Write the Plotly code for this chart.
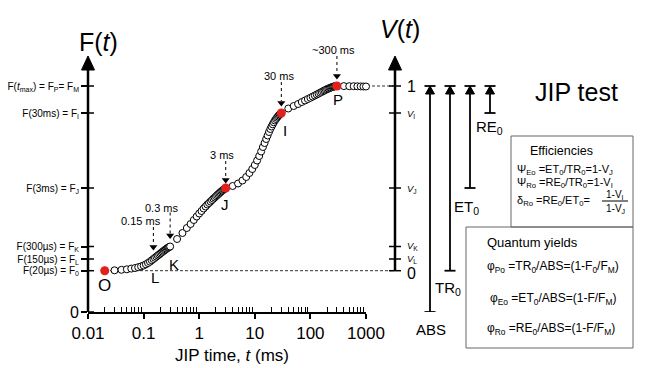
import math
import plotly.graph_objects as go

# ---------------- data ----------------
time_ms = [
    0.02, 0.03, 0.04, 0.05, 0.06, 0.07, 0.08, 0.09, 0.10, 0.11, 0.12, 0.13, 0.14, 0.15,
    0.16, 0.17, 0.18, 0.19, 0.20, 0.21, 0.22, 0.23, 0.24, 0.25, 0.26, 0.27, 0.28, 0.29, 0.30,
    0.4, 0.5, 0.6, 0.7, 0.8, 0.9, 1.0, 1.1, 1.2, 1.3, 1.4, 1.5, 1.6, 1.7, 1.8, 1.9,
    2.0, 2.1, 2.2, 2.3, 2.4, 2.5, 2.6, 2.7, 2.8, 2.9, 3.0,
    4, 5, 6, 7, 8, 9, 10, 11, 12, 13, 14, 15, 16, 17, 18, 19, 20, 21, 22, 23, 24, 25,
    26, 27, 28, 29, 30,
    40, 50, 60, 70, 80, 90, 100, 110, 120, 130, 140, 150, 160, 170, 180, 190, 200,
    210, 220, 230, 240, 250, 260, 270, 280, 290, 300,
    400, 500, 600, 700, 800, 900, 1000,
]
fluorescence = [
    413, 417, 422, 427, 434, 440, 448, 456, 465, 477, 490, 503, 517, 530,
    542, 554, 565, 575, 585, 594, 603, 611, 619, 626, 633, 640, 646, 650, 655,
    730, 790, 840, 880, 920, 955, 985, 1010, 1035, 1055, 1075, 1090, 1105, 1120, 1133, 1145,
    1157, 1168, 1178, 1188, 1197, 1206, 1214, 1221, 1228, 1234, 1240,
    1260, 1285, 1315, 1350, 1390, 1430, 1470, 1515, 1560, 1605, 1650, 1690, 1730, 1765,
    1800, 1830, 1855, 1877, 1897, 1915, 1930, 1943,
    1955, 1966, 1975, 1983, 1990,
    2035, 2060, 2080, 2100, 2115, 2130, 2142, 2154, 2165, 2175, 2184, 2193, 2201, 2209,
    2216, 2223, 2229,
    2234, 2239, 2243, 2247, 2251, 2254, 2256, 2258, 2259, 2260,
    2259, 2258, 2258, 2257, 2256, 2255, 2255,
]
assert len(time_ms) == len(fluorescence)

key_times = [0.02, 3, 30, 300]                       # red points O, J, I, P
phase_times = [0.02, 0.15, 0.3, 3, 30, 300]
phase_labels = ["O", "L", "K", "J", "I", "P"]
f_tick_text = [
    "F(20µs) = F<sub>0</sub>",
    "F(150µs) = F<sub>L</sub>",
    "F(300µs) = F<sub>K</sub>",
    "F(3ms) = F<sub>J</sub>",
    "F(30ms) = F<sub>I</sub>",
    "F(<i>t</i><sub>max</sub>) = F<sub>P</sub>= F<sub>M</sub>",
]
v_tick_text = ["0", "<i>V</i><sub>L</sub>", "<i>V</i><sub>K</sub>", "<i>V</i><sub>J</sub>",
               "<i>V</i><sub>I</sub>", "1"]
x_tick_vals = [0.01, 0.1, 1, 10, 100, 1000]
x_tick_text = ["0.01", "0.1", "1", "10", "100", "1000"]
arrow_times = [0.15, 0.3, 3, 30, 300]
arrow_texts = ["0.15 ms", "0.3 ms", "3 ms", "30 ms", "~300 ms"]
flux_names = ["ABS", "TR<sub>0</sub>", "ET<sub>0</sub>", "RE<sub>0</sub>"]
flux_start_times = [None, 0.02, 3, 30]               # None -> starts at F = 0

# ---------------- helpers / geometry ----------------
W, H = 650, 368
def X(px): return px / W
def Y(py): return 1 - py / H
F_PER_PX = 10
Y_BOTTOM = 312

F_at = dict(zip(time_ms, fluorescence))
f_tick_vals = [F_at[t] for t in phase_times]
FM = F_at[300]
F0 = F_at[0.02]
FONT = "Liberation Sans, Arial, Helvetica, sans-serif"

fig = go.Figure()

# transient curve
fig.add_trace(go.Scatter(
    x=time_ms, y=fluorescence, mode="markers",
    marker=dict(symbol="circle", size=7, color="white", line=dict(color="black", width=1)),
    hoverinfo="skip", showlegend=False, cliponaxis=False))
fig.add_trace(go.Scatter(
    x=key_times, y=[F_at[t] for t in key_times], mode="markers",
    marker=dict(symbol="circle", size=9, color="#e3211c"),
    hoverinfo="skip", showlegend=False, cliponaxis=False))

# time arrows (dotted shafts + heads) and texts
arrow_offsets = {  # (text dx, text dy, shaft top, shaft tip) in px
    0.15: (-12, 38, 32, 9), 0.3: (-8, 39, 34, 8), 3: (-4, 33, 27, 5),
    30: (-2, 37, 31, 7), 300: (-3, 36, 30, 7)}
sx, sy, hx, hy = [], [], [], []
annotations = []
for t, txt in zip(arrow_times, arrow_texts):
    tdx, tdy, top, tip = arrow_offsets[t]
    f = F_at[t]
    sx += [t, t, None]
    sy += [f + top * F_PER_PX, f + (tip + 5) * F_PER_PX, None]
    hx.append(t)
    hy.append(f + (tip + 3) * F_PER_PX)
    annotations.append(dict(text=txt, x=math.log10(t), y=f, xref="x", yref="y",
                            xanchor="center", yanchor="middle",
                            xshift=tdx, yshift=tdy, showarrow=False, font=dict(size=11)))
fig.add_trace(go.Scatter(x=sx, y=sy, mode="lines", line=dict(color="black", width=1, dash="dot"),
                         hoverinfo="skip", showlegend=False))
fig.add_trace(go.Scatter(x=hx, y=hy, mode="markers",
                         marker=dict(symbol="triangle-down", size=7, color="black"),
                         hoverinfo="skip", showlegend=False, cliponaxis=False))

# phase letters
phase_off = {"O": (0, -15, 17), "L": (2, -18, 15), "K": (4, -18, 15),
             "J": (-1, -16, 15), "I": (4, -17, 15), "P": (1, -13, 15)}
for t, lab in zip(phase_times, phase_labels):
    dx, dy, sz = phase_off[lab]
    annotations.append(dict(text=lab, x=math.log10(t), y=F_at[t], xref="x", yref="y",
                            xanchor="center", yanchor="middle",
                            xshift=dx, yshift=dy, showarrow=False, font=dict(size=sz)))

shapes = []
def line(x0, y0, x1, y1, yref="paper", width=1.5, color="black", dash=None, layer="above"):
    d = dict(type="line", xref="paper", yref=yref, x0=x0, y0=y0, x1=x1, y1=y1,
             line=dict(color=color, width=width), layer=layer)
    if dash:
        d["line"]["dash"] = dash
    shapes.append(d)

def tri_up(px, tip_py, h=14, w=13):
    shapes.append(dict(type="path", xref="paper", yref="paper",
                       path=f"M {X(px - w/2)},{Y(tip_py + h)} L {X(px + w/2)},{Y(tip_py + h)} L {X(px)},{Y(tip_py)} Z",
                       fillcolor="black", line=dict(color="black", width=1)))

# F axis
AX_TOP_F = (Y_BOTTOM - 68) * F_PER_PX
line(X(88), 0, X(88), AX_TOP_F, yref="y", width=2.5)
tri_up(88, 56)
for fv in [0] + f_tick_vals:
    line(X(88), fv, X(94), fv, yref="y", width=1.5)

# dashed guide lines
line(X(105), F0, X(393), F0, yref="y", width=1, color="#333", dash="3px,2px", layer="below")
line(X(367), FM, X(393), FM, yref="y", width=1, color="#333", dash="3px,2px", layer="below")

# V axis
line(X(395), F0, X(395), AX_TOP_F, yref="y", width=2.5)
tri_up(395, 56)
v_label_dy = {"0": -3, "1": 0, "<i>V</i><sub>L</sub>": 0, "<i>V</i><sub>K</sub>": 1}
for fv, txt in zip(f_tick_vals, v_tick_text):
    line(X(389), fv, X(401), fv, yref="y", width=1.5)
    big = txt in ("0", "1")
    annotations.append(dict(text=txt, x=X(405), y=fv, xref="paper", yref="y",
                            xanchor="left", yanchor="middle", showarrow=False,
                            yshift=v_label_dy.get(txt, -1),
                            font=dict(size=16 if big else 9.5)))

# energy flux bars
flux_x = [430, 450, 470, 490]
flux_lab_dx = [1, -2, -4, -1]
flux_lab_dy = [-17, -18, -19, -14]
for name, ts, px, ldx, ldy in zip(flux_names, flux_start_times, flux_x, flux_lab_dx, flux_lab_dy):
    fb = 0 if ts is None else F_at[ts]
    line(X(px), fb, X(px), FM, yref="y", width=1.8)
    line(X(px - 5.5), fb, X(px + 5.5), fb, yref="y", width=1.8)
    line(X(px - 5.5), FM, X(px + 5.5), FM, yref="y", width=1.8)
    shapes.append(dict(type="path", xref="paper", yref="y",
                       path=f"M {X(px - 4.5)},{FM - 80} L {X(px + 4.5)},{FM - 80} L {X(px)},{FM} Z",
                       fillcolor="black", line=dict(color="black", width=1)))
    annotations.append(dict(text=name, x=X(px), y=fb, xref="paper", yref="y",
                            xanchor="center", yanchor="middle",
                            xshift=ldx, yshift=ldy, showarrow=False, font=dict(size=15)))

# boxes
shapes.append(dict(type="rect", xref="paper", yref="paper", x0=X(511), y0=Y(227), x1=X(633), y1=Y(136),
                   line=dict(color="#666", width=1)))
shapes.append(dict(type="rect", xref="paper", yref="paper", x0=X(466), y0=Y(348), x1=X(633), y1=Y(227),
                   line=dict(color="#666", width=1)))
line(X(602), Y(201), X(628), Y(201), width=1)

def ptxt(text, px, py, size, xanchor="center", **kw):
    annotations.append(dict(text=text, x=X(px), y=Y(py), xref="paper", yref="paper",
                            xanchor=xanchor, yanchor="middle", showarrow=False,
                            font=dict(size=size), **kw))

ptxt("F(<i>t</i>)", 98, 42, 25)
ptxt("<i>V</i>(<i>t</i>)", 400, 29, 25)
ptxt("0", 81, 312, 16, xanchor="right")
ptxt("JIP time, <i>t</i> (ms)", 232, 355, 17)
ptxt("JIP test", 576, 92, 25)

ptxt("Efficiencies", 561, 151, 12.5)
ptxt("Ψ<sub>Eo</sub> =ET<sub>0</sub>/TR<sub>0</sub>=1-V<sub>J</sub>", 515, 170, 11, xanchor="left")
ptxt("Ψ<sub>Ro</sub> =RE<sub>0</sub>/TR<sub>0</sub>=1-V<sub>I</sub>", 515, 183, 11, xanchor="left")
ptxt("δ<sub>Ro</sub> =RE<sub>0</sub>/ET<sub>0</sub>=", 515, 201, 11, xanchor="left")
ptxt("1-V<sub>I</sub>", 615, 195, 10)
ptxt("1-V<sub>J</sub>", 615, 209, 10)

ptxt("Quantum yields", 485, 242, 13, xanchor="left")
ptxt("φ<sub>Po</sub> =TR<sub>0</sub>/ABS=(1-F<sub>0</sub>/F<sub>M</sub>)", 485, 267, 12, xanchor="left")
ptxt("φ<sub>Eo</sub> =ET<sub>0</sub>/ABS=(1-F/F<sub>M</sub>)", 488, 299, 12, xanchor="left")
ptxt("φ<sub>Ro</sub> =RE<sub>0</sub>/ABS=(1-F/F<sub>M</sub>)", 485, 329, 12, xanchor="left")

minor_vals = [m * 10 ** e for e in range(-2, 3) for m in range(2, 10)]

fig.update_layout(
    width=W, height=H, autosize=False,
    margin=dict(l=0, r=0, t=0, b=0, pad=0, autoexpand=False),
    paper_bgcolor="white", plot_bgcolor="white", showlegend=False,
    font=dict(family=FONT, color="black"),
    xaxis=dict(type="log", range=[-2, 3], domain=[X(88), X(366)], anchor="y",
               automargin=False,
               showline=True, linecolor="black", linewidth=2, showgrid=False, zeroline=False,
               tickmode="array", tickvals=x_tick_vals, ticktext=x_tick_text,
               ticks="outside", ticklen=5, tickwidth=1.5, tickcolor="black",
               tickfont=dict(size=17),
               minor=dict(tickmode="array", tickvals=minor_vals, ticks="inside", ticklen=5,
                          tickwidth=1, tickcolor="black", showgrid=False)),
    yaxis=dict(range=[0, Y_BOTTOM * F_PER_PX], domain=[Y(Y_BOTTOM), 1], anchor="x",
               automargin=False,
               showline=False, showgrid=False, zeroline=False,
               tickmode="array", tickvals=[0] + f_tick_vals, ticktext=[""] + f_tick_text,
               ticks="outside", ticklen=6, tickwidth=1.5, tickcolor="black",
               tickfont=dict(size=10)),
    shapes=shapes, annotations=annotations,
)

fig.write_html("out.html", config={"displayModeBar": False},
               post_script="document.body.style.margin='0px';document.body.style.overflow='hidden';")
